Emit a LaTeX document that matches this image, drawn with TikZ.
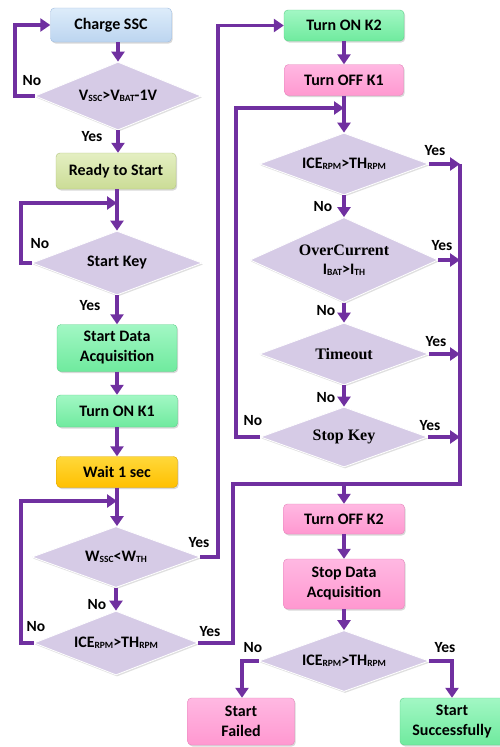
\documentclass[tikz,border=0pt]{standalone}
\usepackage{fontspec}
\setmainfont{Carlito}
\newfontfamily\serifbold{Liberation Serif}
\usetikzlibrary{shapes.geometric,arrows.meta,shadows}
\definecolor{lnpurple}{HTML}{7030A0}
\definecolor{bluetop}{HTML}{DDECFA}\definecolor{bluebot}{HTML}{BCD5F0}\definecolor{blueedge}{HTML}{9FBCE0}
\definecolor{olivetop}{HTML}{E4EFC2}\definecolor{olivebot}{HTML}{CBDC96}\definecolor{oliveedge}{HTML}{B2C47E}
\definecolor{greentop}{HTML}{A2F7C4}\definecolor{greenbot}{HTML}{6FEA9E}\definecolor{greenedge}{HTML}{5CD088}
\definecolor{yeltop}{HTML}{FFD83A}\definecolor{yelbot}{HTML}{FFC000}\definecolor{yeledge}{HTML}{DDA500}
\definecolor{pinktop}{HTML}{FFB8E2}\definecolor{pinkbot}{HTML}{FF98D0}\definecolor{pinkedge}{HTML}{E584BA}
\definecolor{diafill}{HTML}{D6CBE6}
\newcommand{\lowsub}[1]{\raisebox{-1.3pt}{\fontsize{9.5}{9.5}\selectfont #1}}
\tikzset{
  box/.style={rectangle, rounded corners=4pt, inner sep=2pt, align=center,
    font=\bfseries\fontsize{16}{20}\selectfont,
    drop shadow={opacity=0.3,shadow xshift=1.2pt,shadow yshift=-1.5pt}},
  bluebox/.style={top color=bluetop, bottom color=bluebot, draw=blueedge},
  olivebox/.style={top color=olivetop, bottom color=olivebot, draw=oliveedge},
  greenbox/.style={top color=greentop, bottom color=greenbot, draw=greenedge},
  yelbox/.style={top color=yeltop, bottom color=yelbot, draw=yeledge},
  pinkbox/.style={top color=pinktop, bottom color=pinkbot, draw=pinkedge},
  dia/.style={diamond, inner sep=0pt, aspect=2.6, fill=diafill, draw=white, line width=0.8pt,
    align=center, font=\bfseries\fontsize{16}{19}\selectfont,
    drop shadow={opacity=0.25,shadow xshift=1pt,shadow yshift=-1.5pt}},
  line/.style={draw=lnpurple, line width=3.5pt},
  arr/.style={line, -{Triangle[width=13pt,length=10pt]}},
  lbl/.style={font=\bfseries\fontsize{15.5}{17}\selectfont, inner sep=0pt}
}
\begin{document}
\begin{tikzpicture}[x=1pt,y=-1pt]
\useasboundingbox (0,0) rectangle (499,747);
\fill[white] (0,0) rectangle (499,747);

% left column
\node[box,bluebox,minimum width=121pt,minimum height=34pt] (b1) at (111,25) {Charge SSC};
\node[dia,minimum width=166pt,minimum height=68pt] (d1) at (118,96) {V\lowsub{SSC}>V\lowsub{BAT}-1V};
\node[box,olivebox,minimum width=120pt,minimum height=36pt] (b2) at (116,171) {Ready to Start};
\node[dia,minimum width=170pt,minimum height=64pt] (d2) at (117,263) {Start Key};
\node[box,greenbox,minimum width=120pt,minimum height=47pt] (b3) at (117,348) {Start Data\\Acquisition};
\node[box,greenbox,minimum width=121pt,minimum height=32pt] (b4) at (117,411) {Turn ON K1};
\node[box,yelbox,minimum width=121pt,minimum height=31pt] (b5) at (117,472) {Wait 1 sec};
\node[dia,minimum width=168pt,minimum height=61pt] (d3) at (116,557) {W\lowsub{SSC}<W\lowsub{TH}};
\node[dia,minimum width=164pt,minimum height=64pt] (d4) at (116,643) {ICE\lowsub{RPM}>TH\lowsub{RPM}};

% right column
\node[box,greenbox,minimum width=120pt,minimum height=31pt] (b6) at (344,25.5) {Turn ON K2};
\node[box,pinkbox,minimum width=119pt,minimum height=31pt] (b7) at (344,80) {Turn OFF K1};
\node[dia,minimum width=169pt,minimum height=62pt] (d5) at (344,164) {ICE\lowsub{RPM}>TH\lowsub{RPM}};
\node[dia,aspect=2.2,minimum width=188pt,minimum height=85pt] (d6) at (344,260)
  {{\serifbold OverCurrent}\\I\lowsub{BAT}>I\lowsub{TH}};
\node[dia,minimum width=169pt,minimum height=62pt] (d7) at (344,354) {\serifbold Timeout};
\node[dia,minimum width=167pt,minimum height=60pt] (d8) at (344,437) {\serifbold Stop Key};
\node[box,pinkbox,minimum width=121pt,minimum height=30pt] (b8) at (344,519) {Turn OFF K2};
\node[box,pinkbox,minimum width=121pt,minimum height=50pt] (b9) at (344,584) {Stop Data\\Acquisition};
\node[dia,minimum width=170pt,minimum height=61pt] (d9) at (344,661) {ICE\lowsub{RPM}>TH\lowsub{RPM}};
\node[box,pinkbox,minimum width=107pt,minimum height=47pt] (b10) at (241,721.5) {Start\\Failed};
\node[box,greenbox,minimum width=104pt,minimum height=47pt] (b11) at (452,721.5) {Start\\Successfully};

% helper coordinates
\coordinate (c1a) at (15,96);   \coordinate (c1b) at (15,25);
\coordinate (j2) at (117,203);  \coordinate (c2a) at (21,263); \coordinate (c2b) at (21,203);
\coordinate (j3) at (117,501);  \coordinate (c3a) at (21,643); \coordinate (c3b) at (21,501);
\coordinate (c4a) at (218,557); \coordinate (c4b) at (218,25.5);
\coordinate (c5a) at (233,643); \coordinate (c5b) at (233,484);
\coordinate (j5) at (344,108);  \coordinate (c6a) at (236,437); \coordinate (c6b) at (236,108);
\coordinate (rtop) at (460,164); \coordinate (r6) at (460,260); \coordinate (r7) at (460,354);
\coordinate (r8) at (460,437); \coordinate (rbot) at (460,484); \coordinate (jm) at (344,484);
\coordinate (c9a) at (242,661); \coordinate (c9b) at (452,661);

% connectors left
\draw[arr] (b1.south -| d1.north) -- (d1.north);
\draw[arr] (d1.west) -- (c1a) -- (c1b) -- (b1.west);
\draw[arr] (d1.south) -- (d1.south |- b2.north);
\draw[arr] (b2.south -| d2.north) -- (d2.north);
\draw[arr] (d2.west) -- (c2a) -- (c2b) -- (j2);
\draw[arr] (d2.south) -- (b3.north);
\draw[arr] (b3.south) -- (b4.north);
\draw[arr] (b4.south) -- (b5.north);
\draw[arr] (b5.south -| j3) -- (j3 |- d3.north);
\draw[arr] (d4.west) -- (c3a) -- (c3b) -- (j3);
\draw[arr] (d3.east) -- (c4a) -- (c4b) -- (b6.west);
\draw[arr] (d3.south) -- (d4.north);
\draw[line] (d4.east) -- (c5a) -- (c5b) -- (rbot) -- (rtop);

% connectors right
\draw[arr] (b6.south) -- (b7.north);
\draw[arr] (b7.south) -- (d5.north);
\draw[arr] (d8.west) -- (c6a) -- (c6b) -- (j5);
\draw[arr] (d5.east) -- (rtop);
\draw[arr] (d5.south) -- (d6.north);
\draw[arr] (d6.east) -- (r6);
\draw[arr] (d6.south) -- (d7.north);
\draw[arr] (d7.east) -- (r7);
\draw[arr] (d7.south) -- (d8.north);
\draw[arr] (d8.east) -- (r8);
\draw[arr] (jm) -- (b8.north);
\draw[arr] (b8.south) -- (b9.north);
\draw[arr] (b9.south) -- (d9.north);
\draw[arr] (d9.west) -- (c9a) -- (c9a |- b10.north);
\draw[arr] (d9.east) -- (c9b) -- (b11.north);

% labels
\node[lbl] (l1) at (32,81) {No};
\node[lbl] (l2) at (92,137) {Yes};
\node[lbl] (l3) at (40,244) {No};
\node[lbl] (l4) at (90,306) {Yes};
\node[lbl] (l5) at (199,543) {Yes};
\node[lbl] (l6) at (97,605) {No};
\node[lbl] (l7) at (36,627) {No};
\node[lbl] (l8) at (210,632) {Yes};
\node[lbl] (l9) at (435,151) {Yes};
\node[lbl] (l10) at (323,207) {No};
\node[lbl] (l11) at (442,246) {Yes};
\node[lbl] (l12) at (326,311) {No};
\node[lbl] (l13) at (436,342) {Yes};
\node[lbl] (l14) at (326,398) {No};
\node[lbl] (l15) at (430,426) {Yes};
\node[lbl] (l16) at (253,421) {No};
\node[lbl] (l17) at (253,648) {No};
\node[lbl] (l18) at (445,648) {Yes};
\end{tikzpicture}
\end{document}
